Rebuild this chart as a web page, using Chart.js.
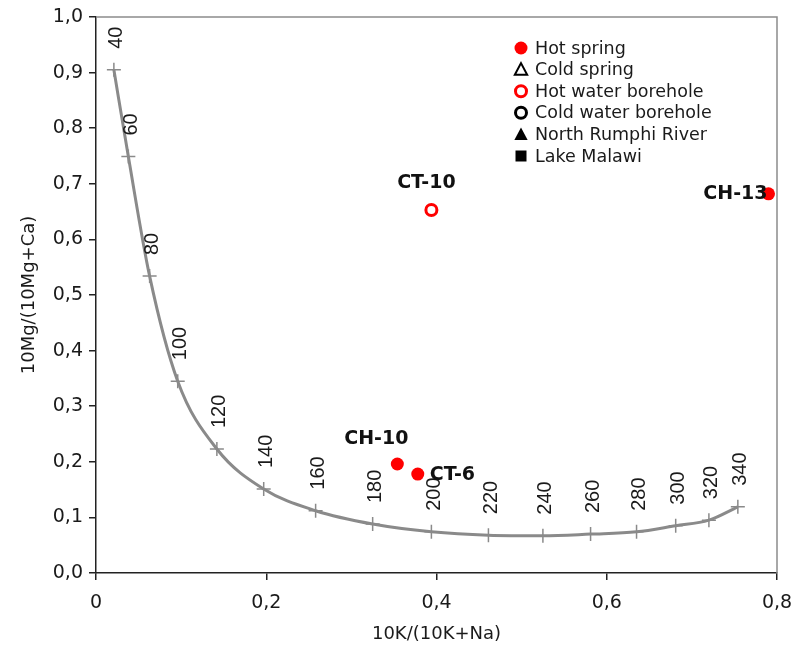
<!DOCTYPE html>
<html>
<head>
<meta charset="utf-8">
<script src="https://cdn.jsdelivr.net/npm/chart.js@4/dist/chart.umd.min.js"></script>
<style>
  html, body { margin: 0; padding: 0; background: #ffffff; }
  #wrap { width: 802px; height: 648px; }
</style>
</head>
<body>
<div id="wrap"><canvas id="c" width="802" height="648"></canvas></div>
<script>
// ---- Data ----
const curveTemps = [40, 60, 80, 100, 120, 140, 160, 180, 200, 220, 240, 260, 280, 300, 320, 340];
const curveX = [0.021, 0.038, 0.063, 0.096, 0.142, 0.197, 0.258, 0.325, 0.394, 0.461, 0.525, 0.581, 0.635, 0.681, 0.720, 0.754];
const curveY = [0.905, 0.749, 0.534, 0.345, 0.223, 0.151, 0.112, 0.088, 0.074, 0.068, 0.067, 0.070, 0.074, 0.085, 0.095, 0.119];

const hotSpringNames = ['CH-10', 'CT-6', 'CH-13'];
const hotSpringX = [0.354, 0.378, 0.790];
const hotSpringY = [0.196, 0.178, 0.682];

const hotBoreholeNames = ['CT-10'];
const hotBoreholeX = [0.394];
const hotBoreholeY = [0.653];

const legendLabels = ['Hot spring', 'Cold spring', 'Hot water borehole', 'Cold water borehole', 'North Rumphi River', 'Lake Malawi'];

const xTickLabels = ['0', '0,2', '0,4', '0,6', '0,8'];
const yTickLabels = ['0,0', '0,1', '0,2', '0,3', '0,4', '0,5', '0,6', '0,7', '0,8', '0,9', '1,0'];

const xTitle = '10K/(10K+Na)';
const yTitle = '10Mg/(10Mg+Ca)';

// ---- Build library structures ----
const toPoints = (xs, ys) => xs.map((x, i) => ({ x: x, y: ys[i] }));

// label placement for sample names (annotation styling)
const nameStyle = {
  'CH-10': { align: 'center', dx: -21, dy: -25 },
  'CT-6':  { align: 'left',   dx: 12,  dy: 1 },
  'CT-10': { align: 'center', dx: -5,  dy: -27 },
  'CH-13': { align: 'right',  dx: -1,  dy: 0 }
};

const RED = '#ff0000';
const BLACK = '#000000';

const datasets = [
  {
    label: 'curve',
    data: toPoints(curveX, curveY),
    showLine: true,
    borderColor: '#8a8a8a',
    borderWidth: 3,
    cubicInterpolationMode: 'monotone',
    pointStyle: 'cross',
    pointRadius: 7,
    pointBorderWidth: 1.5,
    pointBorderColor: '#8a8a8a',
    pointBackgroundColor: '#8a8a8a',
    inLegend: false
  },
  {
    label: legendLabels[0], names: hotSpringNames,
    data: toPoints(hotSpringX, hotSpringY),
    pointStyle: 'circle', pointRadius: 6.5, pointBorderWidth: 0,
    pointBackgroundColor: RED, pointBorderColor: RED,
    legendMarker: { shape: 'circle', fill: RED, stroke: null },
    inLegend: true
  },
  {
    label: legendLabels[1], data: [],
    pointStyle: 'triangle', pointRadius: 6, pointBorderWidth: 2,
    pointBackgroundColor: '#ffffff', pointBorderColor: BLACK,
    legendMarker: { shape: 'triangle', fill: null, stroke: BLACK },
    inLegend: true
  },
  {
    label: legendLabels[2], names: hotBoreholeNames,
    data: toPoints(hotBoreholeX, hotBoreholeY),
    pointStyle: 'circle', pointRadius: 5.5, pointBorderWidth: 3,
    pointBackgroundColor: '#ffffff', pointBorderColor: RED,
    legendMarker: { shape: 'circle', fill: null, stroke: RED },
    inLegend: true
  },
  {
    label: legendLabels[3], data: [],
    pointStyle: 'circle', pointRadius: 5.5, pointBorderWidth: 3,
    pointBackgroundColor: '#ffffff', pointBorderColor: BLACK,
    legendMarker: { shape: 'circle', fill: null, stroke: BLACK },
    inLegend: true
  },
  {
    label: legendLabels[4], data: [],
    pointStyle: 'triangle', pointRadius: 6, pointBorderWidth: 0,
    pointBackgroundColor: BLACK, pointBorderColor: BLACK,
    legendMarker: { shape: 'triangle', fill: BLACK, stroke: null },
    inLegend: true
  },
  {
    label: legendLabels[5], data: [],
    pointStyle: 'rect', pointRadius: 6, pointBorderWidth: 0,
    pointBackgroundColor: BLACK, pointBorderColor: BLACK,
    legendMarker: { shape: 'square', fill: BLACK, stroke: null },
    inLegend: true
  }
];

function drawMarker(ctx, m, x, y) {
  ctx.save();
  ctx.beginPath();
  if (m.shape === 'circle') {
    const r = m.fill ? 6.5 : 5.5;
    ctx.arc(x, y, r, 0, Math.PI * 2);
  } else if (m.shape === 'triangle') {
    const s = m.fill ? 7 : 6.5;
    ctx.moveTo(x, y - s);
    ctx.lineTo(x + s * 0.95, y + s * 0.8);
    ctx.lineTo(x - s * 0.95, y + s * 0.8);
    ctx.closePath();
  } else if (m.shape === 'square') {
    ctx.rect(x - 5.5, y - 5.5, 11, 11);
  }
  if (m.fill) { ctx.fillStyle = m.fill; ctx.fill(); }
  if (m.stroke) { ctx.lineWidth = m.shape === 'triangle' ? 2 : 3; ctx.strokeStyle = m.stroke; ctx.stroke(); }
  ctx.restore();
}

const overlayPlugin = {
  id: 'overlay',
  afterDatasetsDraw(chart) {
    const ctx = chart.ctx;
    const a = chart.chartArea;
    ctx.save();
    // top & right frame of the plot area
    ctx.strokeStyle = '#8c8c8c';
    ctx.lineWidth = 1.5;
    ctx.beginPath();
    ctx.moveTo(a.left, a.top);
    ctx.lineTo(a.right, a.top);
    ctx.lineTo(a.right, a.bottom);
    ctx.stroke();

    // temperature labels along the curve
    const meta = chart.getDatasetMeta(0);
    ctx.font = '20px "Liberation Sans", Arial, sans-serif';
    ctx.fillStyle = '#1a1a1a';
    ctx.textAlign = 'left';
    ctx.textBaseline = 'middle';
    meta.data.forEach((pt, i) => {
      ctx.save();
      ctx.translate(pt.x + 3, pt.y - 21);
      ctx.rotate(-Math.PI / 2);
      ctx.fillText(String(curveTemps[i]), 0, 0);
      ctx.restore();
    });

    // sample name labels
    ctx.font = 'bold 19px "DejaVu Sans", Verdana, sans-serif';
    ctx.fillStyle = '#111111';
    chart.data.datasets.forEach((ds, di) => {
      if (!ds.names) return;
      const m = chart.getDatasetMeta(di);
      m.data.forEach((pt, i) => {
        const name = ds.names[i];
        const st = nameStyle[name] || { align: 'center', dx: 0, dy: -20 };
        ctx.textAlign = st.align;
        ctx.textBaseline = 'middle';
        ctx.fillText(name, pt.x + st.dx, pt.y + st.dy);
      });
    });

    // legend inside the plot area
    ctx.font = '17.5px "DejaVu Sans", Verdana, sans-serif';
    ctx.fillStyle = '#1a1a1a';
    ctx.textAlign = 'left';
    ctx.textBaseline = 'middle';
    let row = 0;
    chart.data.datasets.forEach((ds) => {
      if (!ds.inLegend) return;
      const y = 48 + row * 21.6;
      drawMarker(ctx, ds.legendMarker, 521, y);
      ctx.fillStyle = '#1a1a1a';
      ctx.fillText(ds.label, 535, y + 1);
      row++;
    });
    ctx.restore();
  }
};

const tickFont = { family: '"DejaVu Sans", Verdana, sans-serif', size: 19 };
const titleFont = { family: '"DejaVu Sans", Verdana, sans-serif', size: 18 };

new Chart(document.getElementById('c'), {
  type: 'scatter',
  data: { datasets: datasets },
  plugins: [overlayPlugin],
  options: {
    responsive: false,
    devicePixelRatio: 1,
    animation: false,
    layout: { padding: { top: 17, right: 25, left: 0, bottom: 0 } },
    plugins: {
      legend: { display: false },
      tooltip: { enabled: false }
    },
    elements: { point: { hoverRadius: 0 } },
    scales: {
      x: {
        type: 'linear',
        position: 'bottom',
        min: 0, max: 0.8,
        afterFit: (s) => { s.height = 75; s.paddingLeft = 0; s.paddingRight = 0; },
        ticks: {
          stepSize: 0.2,
          color: '#1a1a1a',
          font: tickFont,
          padding: 12,
          callback: (v, i) => xTickLabels[i]
        },
        grid: { drawOnChartArea: false, drawTicks: true, tickLength: 7, color: '#222', lineWidth: 1.5 },
        border: { display: true, color: '#222', width: 1.5 },
        title: { display: true, text: xTitle, color: '#1a1a1a', font: titleFont, padding: { top: 0, bottom: 3 } }
      },
      y: {
        type: 'linear',
        position: 'left',
        min: 0, max: 1,
        afterFit: (s) => { s.width = 96; s.paddingTop = 0; s.paddingBottom = 0; },
        ticks: {
          stepSize: 0.1,
          color: '#1a1a1a',
          font: tickFont,
          padding: 6,
          callback: (v, i) => yTickLabels[i]
        },
        grid: { drawOnChartArea: false, drawTicks: true, tickLength: 7, color: '#222', lineWidth: 1.5 },
        border: { display: true, color: '#222', width: 1.5 },
        title: { display: true, text: yTitle, color: '#1a1a1a', font: titleFont, padding: { top: 19, bottom: 0 } }
      }
    }
  }
});
</script>
</body>
</html>
